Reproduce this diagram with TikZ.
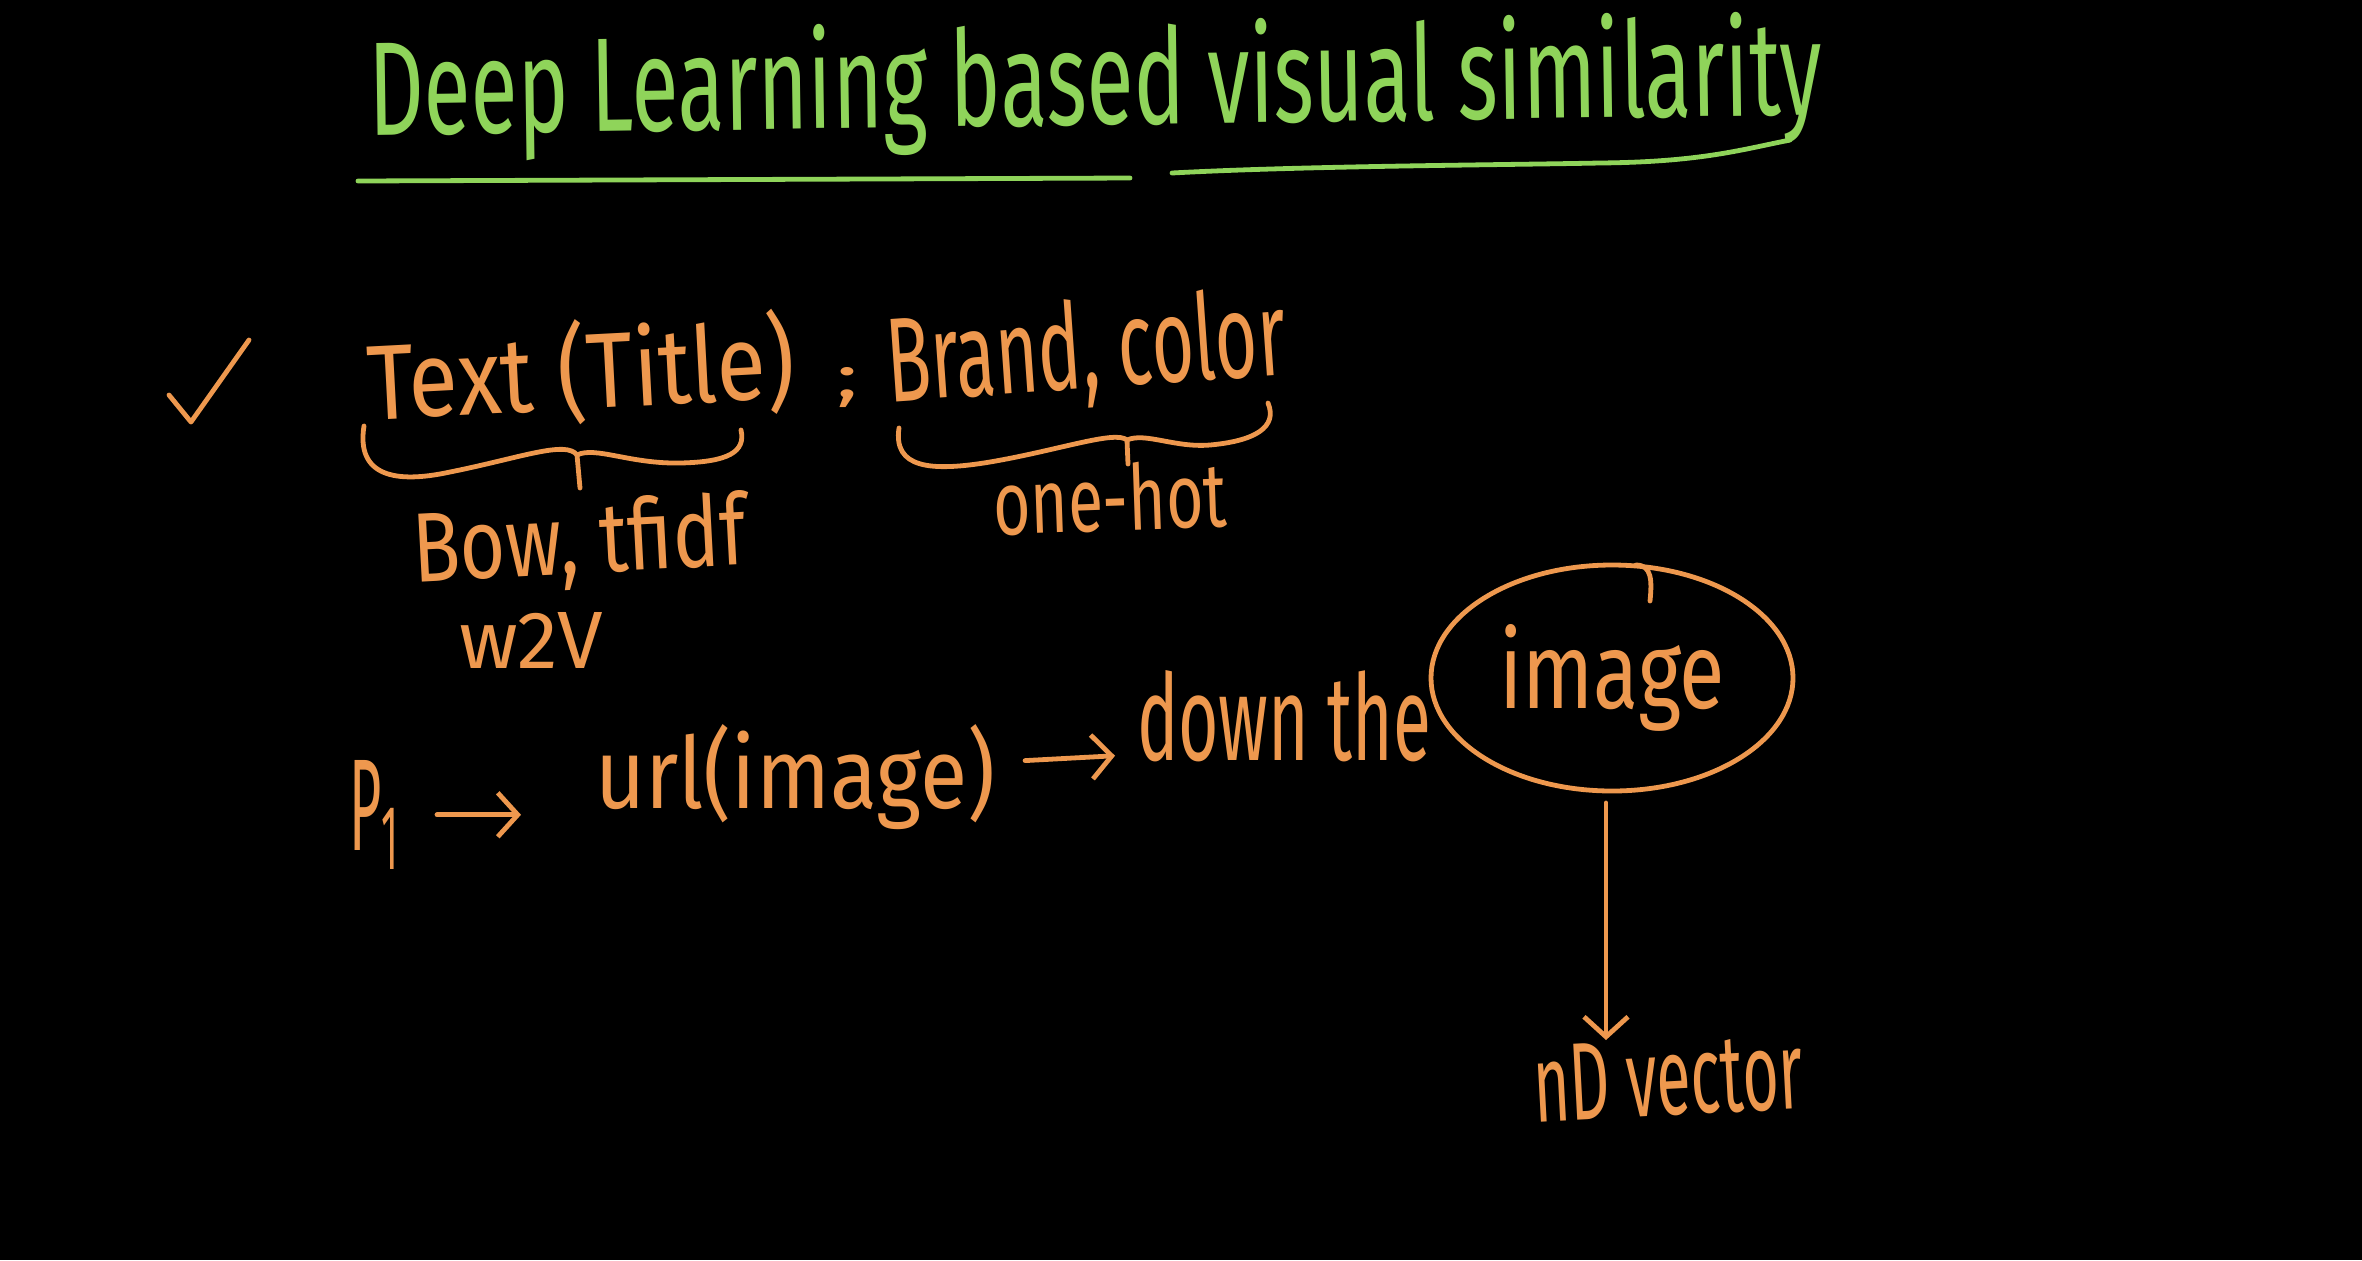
\documentclass[tikz,border=0pt]{standalone}
\usepackage{fontspec}
\usepackage{graphicx}
\newfontfamily\handfont{Fira Sans}
\usetikzlibrary{arrows.meta,shapes.geometric}
\definecolor{chalkorange}{RGB}{238,152,78}
\definecolor{chalkgreen}{RGB}{143,212,90}
\newcommand{\fitbox}[3]{\resizebox{#1}{#2}{#3}}
\begin{document}
\begin{tikzpicture}[x=0.5pt,y=-0.5pt,
  hand/.style={inner sep=0pt, outer sep=0pt, text=chalkorange, font=\handfont},
  titletext/.style={hand, text=chalkgreen},
  ink/.style={draw=chalkorange, line width=2.4pt, line cap=round, line join=round},
  greenink/.style={ink, draw=chalkgreen},
  arr/.style={ink, -{Straight Barb[length=10pt,width=22pt,line width=2.4pt]}},
]
\fill[black] (0,0) rectangle (2362,1260);
\useasboundingbox (0,0) rectangle (2362,1260);

% title
\node[titletext, anchor=base west, rotate=0.8] (title) at (369,135) {\fitbox{727pt}{52pt}{Deep Learning based visual similarity}};
\draw[greenink] (358,181) -- (1130,178);
\draw[greenink] (1172,173) .. controls (1300,166) and (1500,165) .. (1600,163) .. controls (1700,162) and (1740,150) .. (1790,140);

% check mark
\draw[ink] (169,395) -- (191,422) -- (249,340);

% first line
\node[hand, anchor=base west, rotate=3] (textt) at (369,420) {\fitbox{214pt}{45pt}{Text (Title)}};
\node[hand, anchor=base west] (sep) at (836,397) {\fitbox{11pt}{15pt}{;}};
\node[hand, anchor=base west, rotate=4] (brand) at (889,402) {\fitbox{200pt}{45pt}{Brand, color}};

% braces
\draw[ink] (364,426) .. controls (356,476) and (395,484) .. (450,472) .. controls (520,458) and (566,440) .. (577,455) -- (580,488);
\draw[ink] (577,455) .. controls (595,446) and (630,464) .. (680,463) .. controls (728,462) and (746,452) .. (741,430);
\draw[ink] (899,428) .. controls (893,468) and (930,472) .. (990,462) .. controls (1060,450) and (1115,430) .. (1127,440) -- (1128,464);
\draw[ink] (1127,440) .. controls (1145,432) and (1175,448) .. (1210,445) .. controls (1255,441) and (1278,427) .. (1268,403);

\node[hand, anchor=base west, rotate=3] (bow) at (414,582) {\fitbox{167pt}{37pt}{Bow, tfidf}};
\node[hand, anchor=base west] (w2v) at (459,668) {\fitbox{72pt}{28pt}{w2V}};
\node[hand, anchor=base west, rotate=2] (onehot) at (994,535) {\fitbox{117pt}{34pt}{one-hot}};

% pipeline
\node[hand, anchor=base west] (P1) at (349,850) {\fitbox{26pt}{45pt}{P\textsubscript{1}}};
\node[hand, anchor=base west] (url) at (595,808) {\fitbox{200pt}{42pt}{url(image)}};
\node[hand, anchor=base west] (down) at (1137,760) {\fitbox{147pt}{45pt}{down the}};
\node[hand, draw=chalkorange, line width=2.4pt, ellipse, minimum width=181pt, minimum height=113pt] (img) at (1612,678) {\fitbox{113pt}{42pt}{image}};
\draw[ink] ([xshift=12pt]img.north) .. controls +(8pt,0pt) and +(1pt,10pt) .. ([shift={(19pt,-18pt)}]img.north);
\node[hand, anchor=base west, rotate=3] (vec) at (1535,1122) {\fitbox{135pt}{38pt}{nD vector}};
\coordinate (tip) at (1606,1040);

\draw[arr, shorten <=18pt, shorten >=37pt] (P1.east) -- (P1.east -| url.west);
\draw[arr] ([shift={(15pt,8pt)}]url.east) -- ([shift={(-11pt,-20pt)}]down.west);
\draw[arr] ([xshift=-3pt,yshift=-6pt]img.south) -- (tip);
\end{tikzpicture}
\end{document}
